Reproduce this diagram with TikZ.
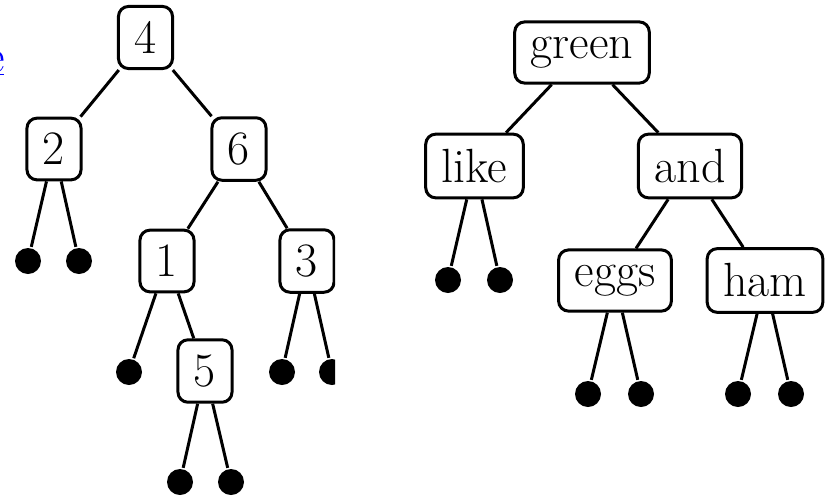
\documentclass[tikz,border=0pt]{standalone}
\usepackage{fontspec}
\usepackage{tikz}

\begin{document}
\begin{tikzpicture}[x=1pt, y=-1pt, line width=3pt,
                    key/.style={draw, rounded corners=10pt, fill=white, inner xsep=16pt, inner ysep=15pt,
                                font=\fontsize{48}{58}\selectfont},
                    leaf/.style={circle, fill, inner sep=0pt, minimum size=26pt}]
                    \useasboundingbox (0,0) rectangle (831,499);
                    % Link cut off at the left edge
                    \begin{scope}
                        \clip (0,0) rectangle (20,499);
                        \node [text=blue, inner sep=0pt, anchor=base east, font=\fontsize{48}{58}\selectfont] (link) at (6,72) {\underline{e}};
                    \end{scope}
                    % Number tree
                    \begin{scope}
                        \clip (0,0) rectangle (335,499);
                        \node [key] (n4) at (145.5,37.5) {4};
                        \node [key] (n2) at (54,149) {2};
                        \node [key] (n6) at (239,149) {6};
                        \node [key] (n1) at (167,261) {1};
                        \node [key] (n3) at (307,261) {3};
                        \node [key] (n5) at (205,371) {5};
                        \node [leaf] (l2a) at (28,261) {};
                        \node [leaf] (l2b) at (79,261) {};
                        \node [leaf] (l1a) at (129,372) {};
                        \node [leaf] (l3a) at (282,372) {};
                        \node [leaf] (l3b) at (332,372) {};
                        \node [leaf] (l5a) at (180,482) {};
                        \node [leaf] (l5b) at (231,482) {};
                        \draw (n4) -- (n2);
                        \draw (n4) -- (n6);
                        \draw (n2) -- (l2a);
                        \draw (n2) -- (l2b);
                        \draw (n6) -- (n1);
                        \draw (n6) -- (n3);
                        \draw (n1) -- (l1a);
                        \draw (n1) -- (n5);
                        \draw (n3) -- (l3a);
                        \draw (n3) -- (l3b);
                        \draw (n5) -- (l5a);
                        \draw (n5) -- (l5b);
                    \end{scope}
                    % Word tree
                    \node [key] (green) at (582,52.5) {green};
                    \node [key] (like) at (474.5,166) {like};
                    \node [key] (and) at (690,166) {and};
                    \node [key] (eggs) at (615,280.5) {eggs};
                    \node [key] (ham) at (765,280.5) {ham};
                    \node [leaf] (likea) at (448,280) {};
                    \node [leaf] (likeb) at (500,280) {};
                    \node [leaf] (eggsa) at (588,394) {};
                    \node [leaf] (eggsb) at (641,394) {};
                    \node [leaf] (hama) at (738,394) {};
                    \node [leaf] (hamb) at (791,394) {};
                    \draw (green) -- (like);
                    \draw (green) -- (and);
                    \draw (like) -- (likea);
                    \draw (like) -- (likeb);
                    \draw (and) -- (eggs);
                    \draw (and) -- (ham);
                    \draw (eggs) -- (eggsa);
                    \draw (eggs) -- (eggsb);
                    \draw (ham) -- (hama);
                    \draw (ham) -- (hamb);
                \end{tikzpicture}
\end{document}
